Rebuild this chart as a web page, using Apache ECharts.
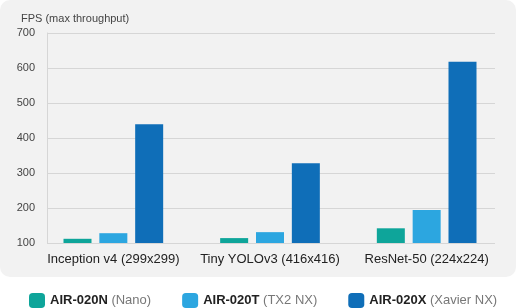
<!DOCTYPE html>
<html><head><meta charset="utf-8">
<script src="https://cdn.jsdelivr.net/npm/echarts@6/dist/echarts.min.js"></script>
<style>html,body{margin:0;padding:0;background:#fff}#c{width:516px;height:308px}</style>
</head><body><div id="c"></div>
<script>
const categories = ['Inception v4 (299x299)', 'Tiny YOLOv3 (416x416)', 'ResNet-50 (224x224)'];
const seriesNames = ['AIR-020N', 'AIR-020T', 'AIR-020X'];
const seriesSub = ['(Nano)', '(TX2 NX)', '(Xavier NX)'];
const nanoValues = [112, 114, 142];
const tx2Values = [128, 131, 194];
const xavierValues = [439, 328, 618];
const yTicks = [100, 200, 300, 400, 500, 600, 700];
const colors = ['#0ea59a', '#2ca6e0', '#0f6eb8'];

const chart = echarts.init(document.getElementById('c'), null, {renderer: 'canvas'});
const yMin = yTicks[0], yMax = yTicks[yTicks.length - 1], yStep = yTicks[1] - yTicks[0];
const sub = {};
seriesNames.forEach((n, i) => sub[n] = seriesSub[i]);
const values = [nanoValues, tx2Values, xavierValues];

chart.setOption({
  animation: false,
  backgroundColor: '#ffffff',
  graphic: [{
    type: 'rect', z: -10, silent: true,
    shape: {x: 0, y: 0, width: 516, height: 277, r: 10},
    style: {fill: '#f2f2f2'}
  }],
  title: {
    text: 'FPS (max throughput)', left: 16, top: 8,
    textStyle: {fontFamily: 'Liberation Sans', fontSize: 11, fontWeight: 'normal', color: '#444'}
  },
  legend: {
    left: 29, top: 293, itemWidth: 16, itemHeight: 15, itemGap: 31, padding: 0,
    icon: 'roundRect',
    data: seriesNames,
    formatter: n => '{b|' + n + '} {n|' + sub[n] + '}',
    textStyle: {
      fontFamily: 'Liberation Sans', fontSize: 13, lineHeight: 15,
      rich: {
        b: {fontFamily: 'Liberation Sans', fontSize: 13, lineHeight: 15, fontWeight: 'bold', color: '#222'},
        n: {fontFamily: 'Liberation Sans', fontSize: 13, lineHeight: 15, color: '#777'}
      }
    }
  },
  grid: [
    {left: 47, right: 21, top: 33, height: 210},
    {left: 35, right: 11, top: 33, height: 210}
  ],
  xAxis: [
    {type: 'category', gridIndex: 0, data: categories, show: false},
    {type: 'category', gridIndex: 1, data: categories,
      axisLine: {show: false}, axisTick: {show: false},
      axisLabel: {interval: 0, margin: 10, fontFamily: 'Liberation Sans', fontSize: 13, color: '#222'}}
  ],
  yAxis: [
    {type: 'value', gridIndex: 0, min: yMin, max: yMax, interval: yStep,
      axisLine: {show: true, lineStyle: {color: '#d6d6d6'}}, axisTick: {show: false},
      splitLine: {lineStyle: {color: '#d6d6d6'}},
      axisLabel: {margin: 12, fontFamily: 'Liberation Sans', fontSize: 11, color: '#444'}},
    {type: 'value', gridIndex: 1, min: yMin, max: yMax, interval: yStep, show: false,
      splitLine: {show: false}}
  ],
  series: seriesNames.map((n, i) => ({
    name: n, type: 'bar', xAxisIndex: 1, yAxisIndex: 1,
    data: values[i], barWidth: 28, barGap: '28%',
    itemStyle: {color: colors[i]}
  }))
});
</script></body></html>
